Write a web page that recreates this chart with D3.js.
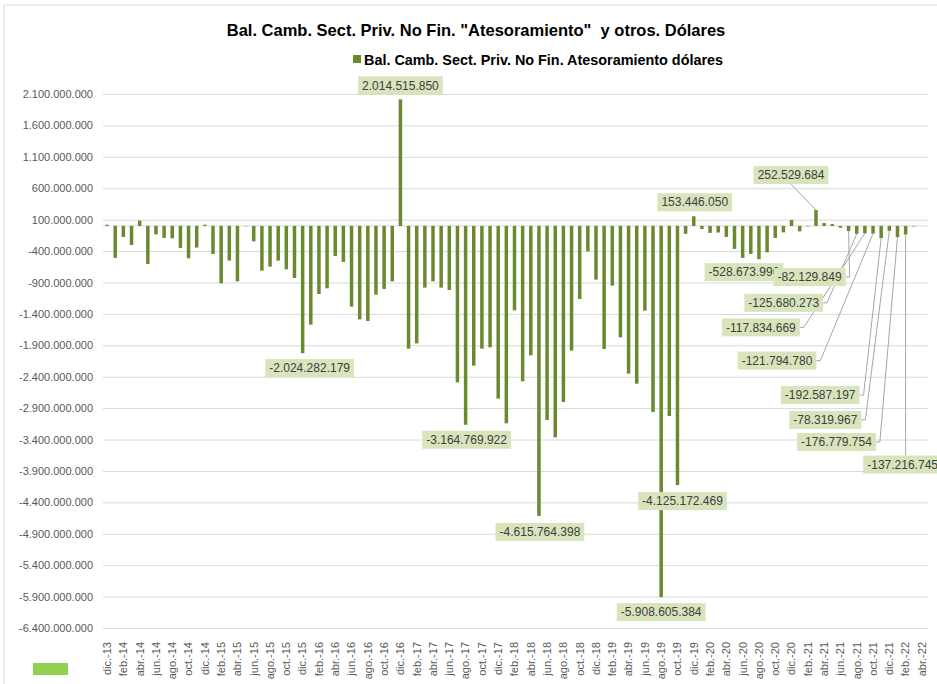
<!DOCTYPE html>
<html>
<head>
<meta charset="utf-8">
<script src="https://cdn.jsdelivr.net/npm/d3@7"></script>
<style>
  body { margin: 0; background: #fff; }
  svg { display: block; font-family: "Liberation Sans", Arial, sans-serif; }
</style>
</head>
<body>
<svg id="chart" width="937" height="684"></svg>
<script>
// months dic-13 .. abr-22
var categories = [
  "dic.-13",
  "ene.-14","feb.-14","mar.-14","abr.-14","may.-14","jun.-14","jul.-14","ago.-14","sep.-14","oct.-14","nov.-14","dic.-14",
  "ene.-15","feb.-15","mar.-15","abr.-15","may.-15","jun.-15","jul.-15","ago.-15","sep.-15","oct.-15","nov.-15","dic.-15",
  "ene.-16","feb.-16","mar.-16","abr.-16","may.-16","jun.-16","jul.-16","ago.-16","sep.-16","oct.-16","nov.-16","dic.-16",
  "ene.-17","feb.-17","mar.-17","abr.-17","may.-17","jun.-17","jul.-17","ago.-17","sep.-17","oct.-17","nov.-17","dic.-17",
  "ene.-18","feb.-18","mar.-18","abr.-18","may.-18","jun.-18","jul.-18","ago.-18","sep.-18","oct.-18","nov.-18","dic.-18",
  "ene.-19","feb.-19","mar.-19","abr.-19","may.-19","jun.-19","jul.-19","ago.-19","sep.-19","oct.-19","nov.-19","dic.-19",
  "ene.-20","feb.-20","mar.-20","abr.-20","may.-20","jun.-20","jul.-20","ago.-20","sep.-20","oct.-20","nov.-20","dic.-20",
  "ene.-21","feb.-21","mar.-21","abr.-21","may.-21","jun.-21","jul.-21","ago.-21","sep.-21","oct.-21","nov.-21","dic.-21",
  "ene.-22","feb.-22","mar.-22","abr.-22"
];

// millones de dolares
var values = [
  20,
  -509, -175, -303, 85, -605, -134, -191, -197, -350, -515, -345, 20,
  -446, -913, -552, -881, -5, -245, -712, -648, -552, -690, -828, -2024.282179,
  -1571, -1083, -993, -478, -573, -1285, -1487, -1513, -1094, -1003, -881, 2014.515850,
  -1953, -1869, -982, -881, -982, -1019, -2490, -3164.769922, -2224, -1953, -1932, -2749,
  -3142, -1343, -2473, -2060, -4615.764398, -3089, -3365, -2802, -1985, -1162, -404, -855,
  -1958, -950, -1773, -2351, -2511, -1348, -2961, -5908.605384, -3025, -4125.172469, -125, 153.446050,
  -48, -111, -105, -175, -366, -509, -446, -528.673990, -420, -191, -102, 95,
  -86, -8, 252.529684, 45, 30, -30, -82.129849, -125.680273, -117.834669, -121.794780, -192.587197, -78.319967,
  -176.779754, -137.216745, -8, 0
];

var yTicks = [2100, 1600, 1100, 600, 100, -400, -900, -1400, -1900, -2400, -2900,
              -3400, -3900, -4400, -4900, -5400, -5900, -6400];

var title = 'Bal. Camb. Sect. Priv. No Fin. "Atesoramiento"  y otros. Dólares';
var seriesName = "Bal. Camb. Sect. Priv. No Fin. Atesoramiento dólares";

// bars with a data label: [index, dx, dy, leader]
var labelPos = [
  [24, 7, 15, ""], [36, 0, -14, ""], [44, 1, 15, ""], [53, 1, 16, ""],
  [68, 0, 15, ""], [70, 5, 16, ""], [72, 1, -14, ""], [80, -15, 13, ""],
  [87, -25, -35, "b"], [91, -39, 46, "r"], [92, -73, 69, "r"], [93, -104, 94, "r"],
  [94, -96, 127, "r"], [95, -61, 157, "r"], [96, -64, 189, "r"], [97, -61, 205, "r"],
  [98, -3, 230, "t"]
];

var barColor = "#6a8a30";
var svg = d3.select("#chart");

var loc = d3.formatLocale({decimal: ",", thousands: ".", grouping: [3], currency: ["$", ""], minus: "-"});
var fmt = loc.format(",d");

var x = d3.scaleBand().domain(d3.range(categories.length)).range([103, 926])
  .paddingInner(0.57).paddingOuter(0.285);
var y = d3.scaleLinear().domain([-6400, 2100]).range([628, 94]);

// chart border
svg.append("path").attr("d", "M4,690 V5 H940").attr("fill", "none").attr("stroke", "#d9d9d9");

// title + legend
svg.append("text").attr("x", 476).attr("y", 36).attr("text-anchor", "middle")
  .style("font-family", '"Liberation Sans Narrow", sans-serif')
  .style("white-space", "pre")
  .style("font-weight", "bold").style("font-size", "16.5px").attr("fill", "#000")
  .text(title);
svg.append("rect").attr("x", 353).attr("y", 55).attr("width", 8).attr("height", 8).attr("fill", barColor);
svg.append("text").attr("x", 364).attr("y", 64.5)
  .style("font-family", '"Liberation Sans Narrow", sans-serif')
  .style("font-weight", "bold").style("font-size", "14.4px").attr("fill", "#000")
  .text(seriesName);

// y axis + grid
var yAxis = svg.append("g").attr("transform", "translate(103,0)")
  .call(d3.axisLeft(y).tickValues(yTicks).tickSize(-825).tickPadding(10)
    .tickFormat(function(d) { return fmt(d * 1e6); }));
yAxis.select(".domain").remove();
yAxis.selectAll("line").attr("stroke", "#d9d9d9");
yAxis.selectAll("text").attr("fill", "#595959").style("font-size", "11px");

// zero line
svg.append("line").attr("x1", 103).attr("x2", 928).attr("y1", y(0)).attr("y2", y(0))
  .attr("stroke", "#d9d9d9");

// x axis
var xAxis = svg.append("g").attr("transform", "translate(0,634)")
  .call(d3.axisBottom(x).tickValues(d3.range(0, categories.length, 2)).tickSize(0)
    .tickFormat(function(i) { return categories[i]; }));
xAxis.select(".domain").remove();
xAxis.selectAll("text")
  .attr("transform", "rotate(-90)")
  .attr("x", -8).attr("y", 0).attr("dy", "0.35em")
  .attr("text-anchor", "end")
  .attr("fill", "#595959").style("font-size", "11px");

// bars
svg.append("g").selectAll("rect").data(values).join("rect")
  .attr("x", function(d, i) { return x(i); })
  .attr("width", x.bandwidth())
  .attr("y", function(d) { return Math.min(y(d), y(0)); })
  .attr("height", function(d) { return Math.abs(y(d) - y(0)); })
  .attr("fill", barColor);

// data labels
var lg = svg.append("g").style("font-size", "12px");
labelPos.forEach(function(p) {
  var i = p[0], v = values[i];
  var bx = x(i) + x.bandwidth() / 2, by = y(v);
  var cx = bx + p[1], cy = by + p[2];
  var t = lg.append("text").attr("x", cx).attr("y", cy).attr("dy", "0.35em")
    .attr("text-anchor", "middle").attr("fill", "#404040")
    .text(fmt(Math.round(v * 1e6)));
  var w = t.node().getComputedTextLength() + 8, h = 18;
  if (p[3] === "r") {
    lg.insert("path", "text").attr("fill", "none").attr("stroke", "#a6a6a6")
      .attr("d", "M" + (cx + w / 2) + "," + cy + "h4L" + bx + "," + by);
  } else if (p[3] === "b") {
    lg.insert("path", "text").attr("fill", "none").attr("stroke", "#a6a6a6")
      .attr("d", "M" + cx + "," + (cy + h / 2) + "L" + bx + "," + by);
  } else if (p[3] === "t") {
    lg.insert("path", "text").attr("fill", "none").attr("stroke", "#a6a6a6")
      .attr("d", "M" + bx + "," + (cy - h / 2) + "L" + bx + "," + by);
  }
  lg.insert("rect", function() { return t.node(); })
    .attr("x", cx - w / 2).attr("y", cy - h / 2).attr("width", w).attr("height", h)
    .attr("fill", "#d8e4bc");
});

// stray green marker bottom left
svg.append("rect").attr("x", 33).attr("y", 663).attr("width", 35).attr("height", 12).attr("fill", "#92d050");
</script>
</body>
</html>
